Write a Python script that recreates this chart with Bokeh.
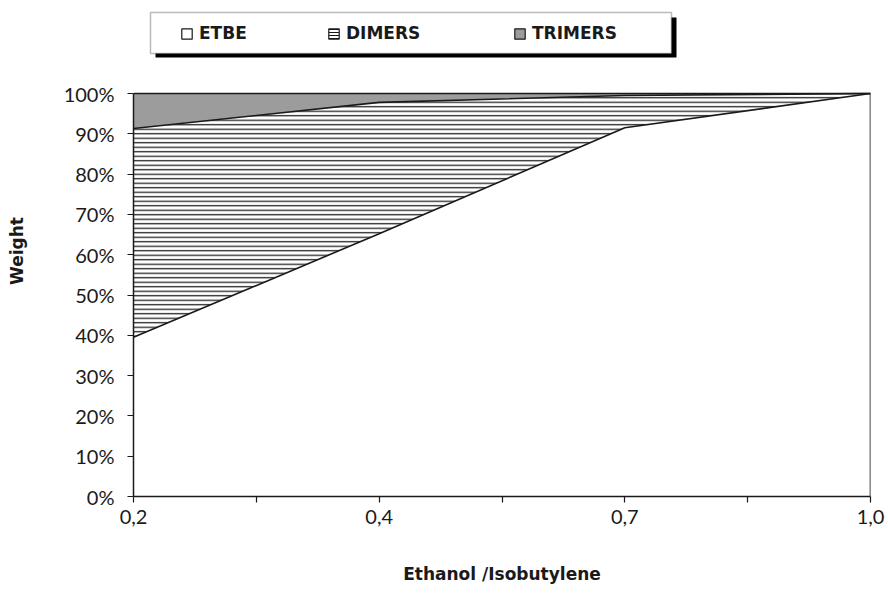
from bokeh.plotting import figure
from bokeh.models import (Range1d, FixedTicker, Legend, LegendItem, ColumnDataSource,
                          BoxAnnotation)
from bokeh.embed import file_html
from bokeh.resources import INLINE

# ---- data ----
ratio_labels = ["0,2", "0,4", "0,7", "1,0"]
etbe = [39.5, 65.2, 91.5, 100.0]
dimers = [51.8, 32.6, 8.0, 0.0]
trimers = [8.7, 2.2, 0.5, 0.0]
y_ticks = [0, 10, 20, 30, 40, 50, 60, 70, 80, 90, 100]
series_names = ["ETBE", "DIMERS", "TRIMERS"]

x = list(range(len(ratio_labels)))
c1 = etbe
c2 = [a + b for a, b in zip(etbe, dimers)]
c3 = [a + b for a, b in zip(c2, trimers)]
zero = [0.0] * len(x)
src = ColumnDataSource(dict(x=x, zero=zero, c1=c1, c2=c2, c3=c3))

FONT = "Lato"
TITLE_FONT = "DejaVu Sans"
INK = "#1a1a1a"
GRAY = "#9c9c9c"
Y_MAX = 100
TOP_ROOM = 121.84  # headroom above 100% so the legend band sits inside the frame

p = figure(width=888, height=595, output_backend="svg", toolbar_location=None,
           x_range=Range1d(0, len(x) - 1), y_range=Range1d(0, TOP_ROOM),
           min_border_left=133, min_border_right=18, min_border_top=5, min_border_bottom=99)
p.background_fill_color = "white"
p.border_fill_color = "white"
p.outline_line_color = None
p.grid.visible = False

# stacked areas
p.varea(x="x", y1="zero", y2="c1", source=src, fill_color="white")
p.varea(x="x", y1="c1", y2="c2", source=src, fill_color="white",
        hatch_pattern="horizontal_line", hatch_scale=4.5, hatch_weight=1.3, hatch_color="#222222")
p.varea(x="x", y1="c2", y2="c3", source=src, fill_color=GRAY)
p.line(x="x", y="c1", source=src, line_color=INK, line_width=1.6)
p.line(x="x", y="c2", source=src, line_color=INK, line_width=1.6)
# plot-area border (top = stacked total, right = last category)
p.line(x="x", y="c3", source=src, line_color=INK, line_width=1.6)
p.segment(x0=[x[-1]], y0=[0], x1=[x[-1]], y1=[c3[-1]], line_color=INK, line_width=1.6)

# legend proxies (one invisible point each so the legend glyph is drawn)
nan = float("nan")
r_etbe = p.quad(left=[nan], right=[nan], top=[nan], bottom=[nan],
                fill_color="white", line_color=INK, line_width=1.2)
r_dim = p.quad(left=[nan], right=[nan], top=[nan], bottom=[nan],
               fill_color="white", line_color=INK, line_width=1.2,
               hatch_pattern="horizontal_line", hatch_scale=3, hatch_weight=1, hatch_color=INK)
r_tri = p.quad(left=[nan], right=[nan], top=[nan], bottom=[nan],
               fill_color=GRAY, line_color=INK, line_width=1.2)
proxies = [r_etbe, r_dim, r_tri]

# axes
p.xaxis.ticker = FixedTicker(ticks=x, minor_ticks=[i + 0.5 for i in x[:-1]])
p.xaxis.major_label_overrides = {i: lab for i, lab in zip(x, ratio_labels)}
p.yaxis.ticker = FixedTicker(ticks=y_ticks, minor_ticks=[])
p.yaxis.major_label_overrides = {t: f"{t}%" for t in y_ticks}
p.yaxis.bounds = (0, Y_MAX)
for ax in (p.xaxis[0], p.yaxis[0]):
    ax.axis_line_color = INK
    ax.axis_line_width = 1.5
    ax.major_tick_line_color = INK
    ax.minor_tick_line_color = INK
    ax.major_tick_line_width = 1.2
    ax.minor_tick_line_width = 1.2
    ax.major_tick_in = 0
    ax.major_tick_out = 6
    ax.minor_tick_in = 0
    ax.minor_tick_out = 6
    ax.major_label_text_font = FONT
    ax.major_label_text_font_size = "20px"
    ax.major_label_text_color = INK
    ax.axis_label_text_font = TITLE_FONT
    ax.axis_label_text_font_style = "bold"
    ax.axis_label_text_font_size = "17px"
    ax.axis_label_text_color = INK
p.xaxis.axis_label = "Ethanol /Isobutylene"
p.yaxis.axis_label = "Weight"
p.xaxis.major_label_standoff = 7
p.yaxis.major_label_standoff = 13
p.xaxis.axis_label_standoff = 37
p.yaxis.axis_label_standoff = 34

# legend box with drop shadow (canvas pixels)
p.add_layout(BoxAnnotation(left=155, right=676, top=17, bottom=57,
                           left_units="canvas", right_units="canvas",
                           top_units="canvas", bottom_units="canvas",
                           fill_color="black", fill_alpha=1.0, line_color=None))
p.add_layout(BoxAnnotation(left=150, right=671, top=12, bottom=53,
                           left_units="canvas", right_units="canvas",
                           top_units="canvas", bottom_units="canvas",
                           fill_color="white", fill_alpha=1.0, line_color=INK, line_width=1.5))

# one legend per entry, placed like the original
legend_x = [47, 194, 380]
for name, rend, lx in zip(series_names, proxies, legend_x):
    lg = Legend(items=[LegendItem(label=name, renderers=[rend])], location=(lx, 453),
                orientation="horizontal", margin=0, padding=0, spacing=0,
                label_standoff=6, glyph_width=13, glyph_height=13, label_height=20,
                label_text_font=TITLE_FONT, label_text_font_style="bold",
                label_text_font_size="17px", label_text_color=INK,
                border_line_color=None, background_fill_alpha=0.0)
    p.add_layout(lg, "center")

open("out.html", "w").write(file_html(p, INLINE))
